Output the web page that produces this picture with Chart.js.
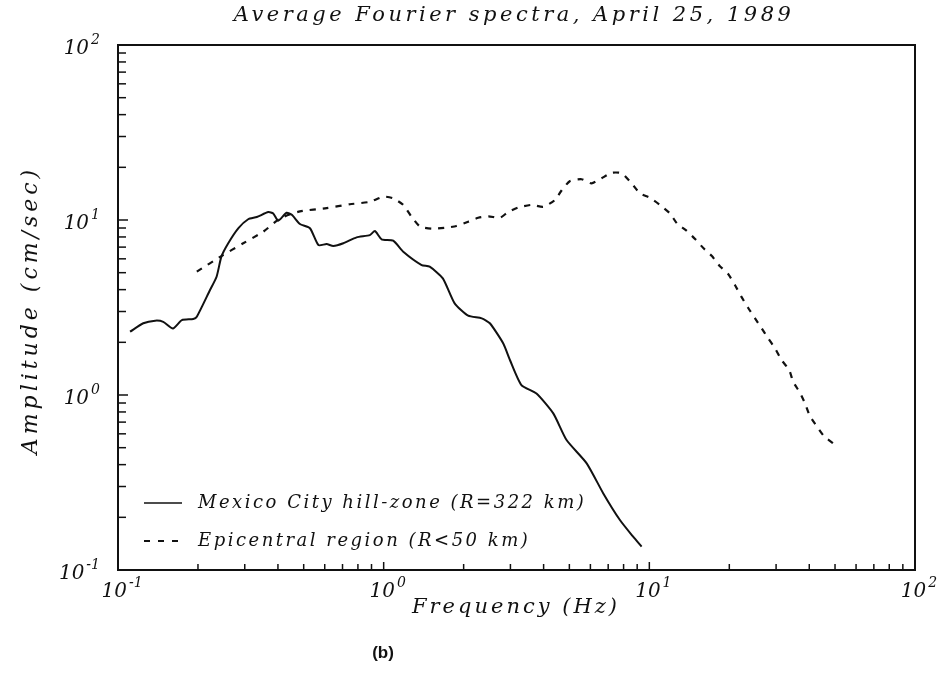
<!DOCTYPE html>
<html>
<head>
<meta charset="utf-8">
<script src="https://cdn.jsdelivr.net/npm/chart.js@4/dist/chart.umd.min.js"></script>
<style>
  body { margin: 0; background: #fff; }
  #wrap { width: 945px; height: 681px; }
</style>
</head>
<body>
<div id="wrap"><canvas id="espectro" width="945" height="681"></canvas></div>
<script>
// Mexico City hill-zone, average spectrum (Hz, cm/sec)
var hillFreq = [0.111, 0.1245, 0.138, 0.148, 0.161, 0.174, 0.192, 0.198, 0.222, 0.235,
  0.245, 0.260, 0.284, 0.309, 0.333, 0.368, 0.384, 0.401, 0.431, 0.451,
  0.484, 0.528, 0.568, 0.610, 0.646, 0.705, 0.791, 0.887, 0.927, 0.982,
  1.086, 1.185, 1.39, 1.49, 1.67, 1.85, 2.08, 2.34, 2.51, 2.82,
  2.99, 3.30, 3.76, 4.35, 4.88, 5.81, 6.71, 7.75, 8.69, 9.35];
var hillAmp = [2.30, 2.57, 2.66, 2.62, 2.40, 2.68, 2.72, 2.80, 3.98, 4.74,
  6.17, 7.36, 8.98, 10.1, 10.4, 11.1, 10.9, 9.9, 11.0, 10.7,
  9.49, 8.97, 7.19, 7.29, 7.10, 7.36, 7.96, 8.20, 8.65, 7.76,
  7.62, 6.59, 5.53, 5.41, 4.64, 3.34, 2.84, 2.74, 2.57, 1.97,
  1.58, 1.14, 1.02, 0.785, 0.553, 0.407, 0.274, 0.193, 0.155, 0.136];

// Epicentral region
var epiFreq = [0.198, 0.245, 0.296, 0.352, 0.407, 0.484, 0.610, 0.746, 0.887, 0.997,
  1.086, 1.185, 1.27, 1.37, 1.52, 1.70, 1.88, 2.08, 2.27, 2.48,
  2.74, 2.94, 3.21, 3.61, 3.99, 4.41, 4.68, 5.03, 5.56, 6.06,
  6.61, 7.21, 7.87, 8.58, 9.22, 10.05, 10.96, 11.96, 12.7, 13.8,
  14.9, 16.0, 17.2, 18.4, 19.8, 21.0, 22.2, 23.6, 25.0, 26.5,
  28.0, 29.7, 31.5, 33.6, 34.8, 36.9, 38.5, 40.2, 42.8, 45.4, 49.2];
var epiAmp = [5.07, 6.22, 7.36, 8.57, 10.2, 11.2, 11.7, 12.3, 12.7, 13.6,
  13.3, 12.2, 10.5, 9.17, 8.92, 9.03, 9.24, 9.78, 10.3, 10.5,
  10.3, 11.1, 11.8, 12.2, 11.9, 13.0, 14.8, 16.7, 17.1, 16.2,
  17.3, 18.6, 18.5, 16.2, 14.2, 13.4, 12.2, 10.9, 9.57, 8.69,
  7.76, 6.89, 6.22, 5.46, 4.91, 4.25, 3.65, 3.13, 2.74, 2.40,
  2.11, 1.85, 1.58, 1.39, 1.19, 1.03, 0.90, 0.759, 0.659, 0.583, 0.53];

var decadas = [0.1, 1, 10, 100];
var exponentes = ['-1', '0', '1', '2'];
var leyendas = ['Mexico City hill-zone (R=322 km)', 'Epicentral region (R<50 km)'];

var fuente = 'italic 20px "DejaVu Serif"';
var fuenteExp = 'italic 14px "DejaVu Serif"';

function puntos(xs, ys) {
  var out = [];
  for (var i = 0; i < xs.length; i++) out.push({ x: xs[i], y: ys[i] });
  return out;
}

// "10" with a raised exponent, anchored by align
function potencia(ctx, exp, x, y, align) {
  ctx.font = fuente;
  var wBase = ctx.measureText('10').width;
  ctx.font = fuenteExp;
  var wExp = ctx.measureText(exp).width;
  var total = wBase + 2 + wExp;
  var x0 = align === 'right' ? x - total : x - total / 2;
  ctx.textAlign = 'left';
  ctx.textBaseline = 'middle';
  ctx.font = fuente;
  ctx.fillText('10', x0, y);
  ctx.font = fuenteExp;
  ctx.fillText(exp, x0 + wBase + 2, y - 9);
}

const marco = {
  id: 'marco',
  afterDatasetsDraw(chart) {
    const ctx = chart.ctx;
    const a = chart.chartArea;
    const sx = chart.scales.x, sy = chart.scales.y;
    ctx.save();
    ctx.strokeStyle = '#111';
    ctx.fillStyle = '#111';
    ctx.lineWidth = 2;
    ctx.strokeRect(a.left, a.top, a.right - a.left, a.bottom - a.top);

    // minor ticks, inside, only on bottom and left
    ctx.lineWidth = 1.5;
    for (var d = 0; d < 3; d++) {
      for (var m = 1; m <= 9; m++) {
        var v = decadas[d] * m;
        if (m === 1 && d === 0) continue;
        var px = sx.getPixelForValue(v);
        ctx.beginPath();
        ctx.moveTo(px, a.bottom);
        ctx.lineTo(px, a.bottom - (m === 1 ? 8 : 6));
        ctx.stroke();
        var py = sy.getPixelForValue(v);
        ctx.beginPath();
        ctx.moveTo(a.left, py);
        ctx.lineTo(a.left + (m === 1 ? 10 : 8), py);
        ctx.stroke();
      }
    }

    // tick labels
    for (var i = 0; i < decadas.length; i++) {
      potencia(ctx, exponentes[i], sx.getPixelForValue(decadas[i]) + 4, a.bottom + 22, 'center');
      potencia(ctx, exponentes[i], a.left - 18, sy.getPixelForValue(decadas[i]) + 4, 'right');
    }

    // titles
    ctx.font = 'italic 21px "DejaVu Serif"';
    ctx.letterSpacing = '3.5px';
    ctx.textAlign = 'center';
    ctx.textBaseline = 'middle';
    ctx.fillText('Average Fourier spectra, April 25, 1989', 514, 16);
    ctx.font = 'italic 21px "DejaVu Serif"';
    ctx.letterSpacing = '3px';
    ctx.fillText('Frequency (Hz)', 516, 608);
    ctx.save();
    ctx.translate(31, 310);
    ctx.rotate(-Math.PI / 2);
    ctx.font = 'italic 22px "DejaVu Serif"';
    ctx.letterSpacing = '4px';
    ctx.fillText('Amplitude (cm/sec)', 0, 0);
    ctx.restore();

    // legend
    ctx.font = 'italic 18px "DejaVu Serif"';
    ctx.letterSpacing = '2.5px';
    ctx.textAlign = 'left';
    var filas = [503, 541];
    for (var k = 0; k < 2; k++) {
      ctx.lineWidth = k === 0 ? 1.5 : 2;
      ctx.setLineDash(k === 0 ? [] : [6, 8]);
      ctx.beginPath();
      ctx.moveTo(144, filas[k]);
      ctx.lineTo(182, filas[k]);
      ctx.stroke();
      ctx.setLineDash([]);
      ctx.fillText(leyendas[k], 198, filas[k]);
    }

    ctx.letterSpacing = '0px';
    ctx.font = 'bold 17px "Liberation Sans"';
    ctx.textAlign = 'center';
    ctx.fillText('(b)', 383, 653);
    ctx.restore();
  }
};

new Chart(document.getElementById('espectro'), {
  type: 'scatter',
  data: {
    datasets: [{
      label: leyendas[0],
      data: puntos(hillFreq, hillAmp),
      showLine: true,
      borderColor: '#111',
      borderWidth: 2,
      pointRadius: 0,
      tension: 0.2
    }, {
      label: leyendas[1],
      data: puntos(epiFreq, epiAmp),
      showLine: true,
      borderColor: '#111',
      borderWidth: 2.2,
      borderDash: [6, 7],
      pointRadius: 0,
      tension: 0.2
    }]
  },
  options: {
    responsive: false,
    animation: false,
    layout: { padding: { left: 118, top: 45, right: 30, bottom: 111 } },
    plugins: { legend: { display: false }, tooltip: { enabled: false } },
    scales: {
      x: { type: 'logarithmic', min: 0.1, max: 100, display: false },
      y: { type: 'logarithmic', min: 0.1, max: 100, display: false }
    }
  },
  plugins: [marco]
});
</script>
</body>
</html>
